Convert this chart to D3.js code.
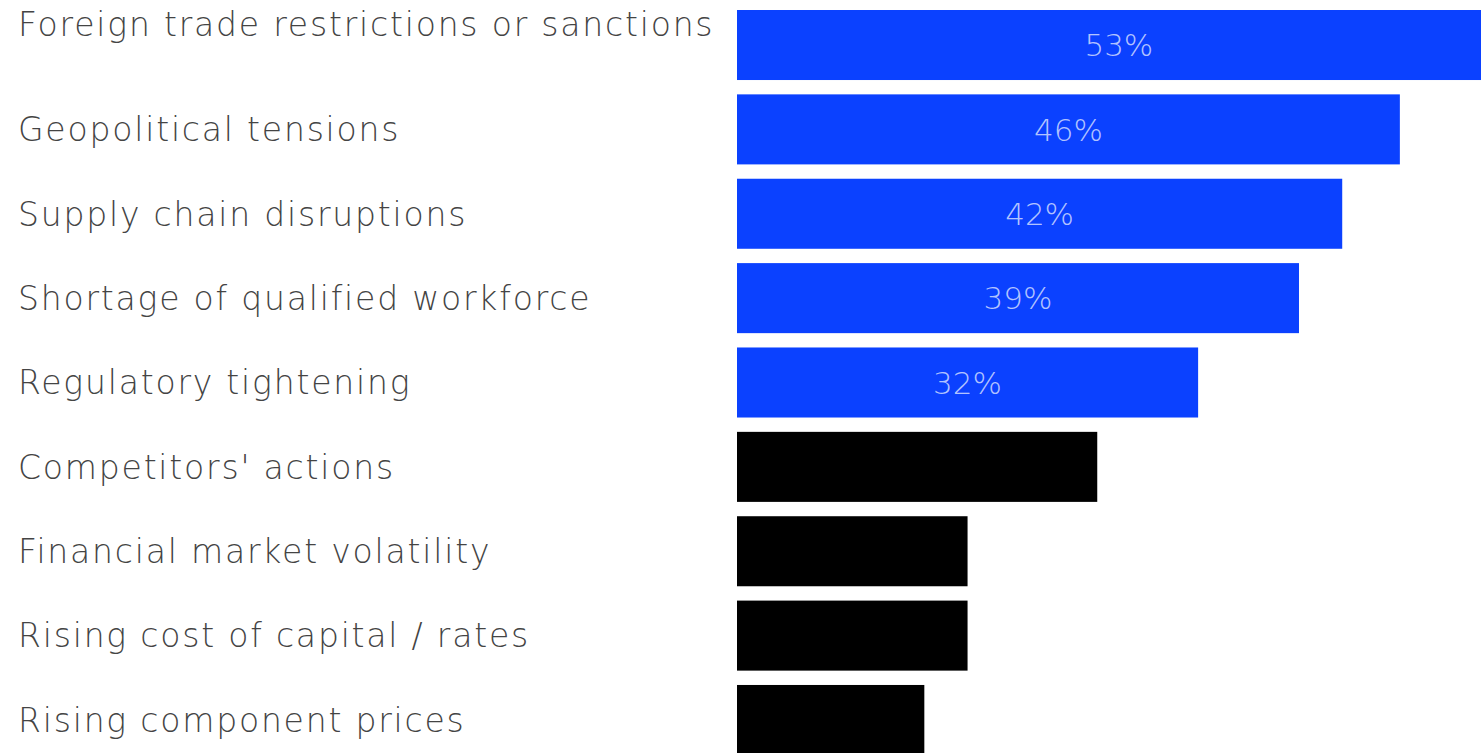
<!DOCTYPE html>
<html>
<head>
<meta charset="utf-8">
<script src="https://cdn.jsdelivr.net/npm/d3@7"></script>
<style>
  html, body { margin: 0; padding: 0; background: #fff; overflow: hidden; }
  svg { display: block; }
</style>
</head>
<body>
<svg id="chart" width="1481" height="753"></svg>
<script>
const categories = [
  "Foreign trade restrictions or sanctions",
  "Geopolitical tensions",
  "Supply chain disruptions",
  "Shortage of qualified workforce",
  "Regulatory tightening",
  "Competitors' actions",
  "Financial market volatility",
  "Rising cost of capital / rates",
  "Rising component prices"
];
const values = [53, 46, 42, 39, 32, 25, 16, 16, 13];
const highlighted = [true, true, true, true, true, false, false, false, false];
const valueLabels = ["53%", "46%", "42%", "39%", "32%", "", "", "", ""];

const svg = d3.select("#chart");
const barLeft = 737;
const pxPerPct = 14.41;

const x = d3.scaleLinear().domain([0, 1]).range([barLeft, barLeft + pxPerPct]);
const y = d3.scaleBand().domain(categories).range([10, 755]).paddingInner(0.17).paddingOuter(0);

const data = categories.map((c, i) => ({ c, v: values[i], hi: highlighted[i], lab: valueLabels[i] }));

svg.selectAll("rect.bar").data(data).enter().append("rect")
  .attr("class", "bar")
  .attr("x", x(0))
  .attr("y", d => y(d.c))
  .attr("width", d => x(d.v) - x(0))
  .attr("height", y.bandwidth())
  .attr("fill", d => d.hi ? "#0b41ff" : "#000000");

svg.selectAll("text.val").data(data.filter(d => d.lab)).enter().append("text")
  .attr("class", "val")
  .attr("x", d => (x(0) + x(d.v)) / 2)
  .attr("y", d => y(d.c) + y.bandwidth() / 2)
  .attr("dy", "0.36em")
  .attr("text-anchor", "middle")
  .attr("font-family", "DejaVu Sans")
  .attr("font-weight", 200)
  .attr("font-size", 31)
  .attr("fill", "#ffffff")
  .attr("fill-opacity", 0.7)
  .text(d => d.lab);

svg.selectAll("text.cat").data(data).enter().append("text")
  .attr("class", "cat")
  .attr("x", 18)
  .attr("y", (d, i) => d.c.length > 35 ? y(d.c) + 14 : y(d.c) + y.bandwidth() / 2)
  .attr("dy", "0.36em")
  .attr("font-family", "DejaVu Sans")
  .attr("font-weight", 200)
  .attr("font-size", 33)
  .attr("letter-spacing", 1.8)
  .attr("fill", "#444")
  .text(d => d.c);
</script>
</body>
</html>
